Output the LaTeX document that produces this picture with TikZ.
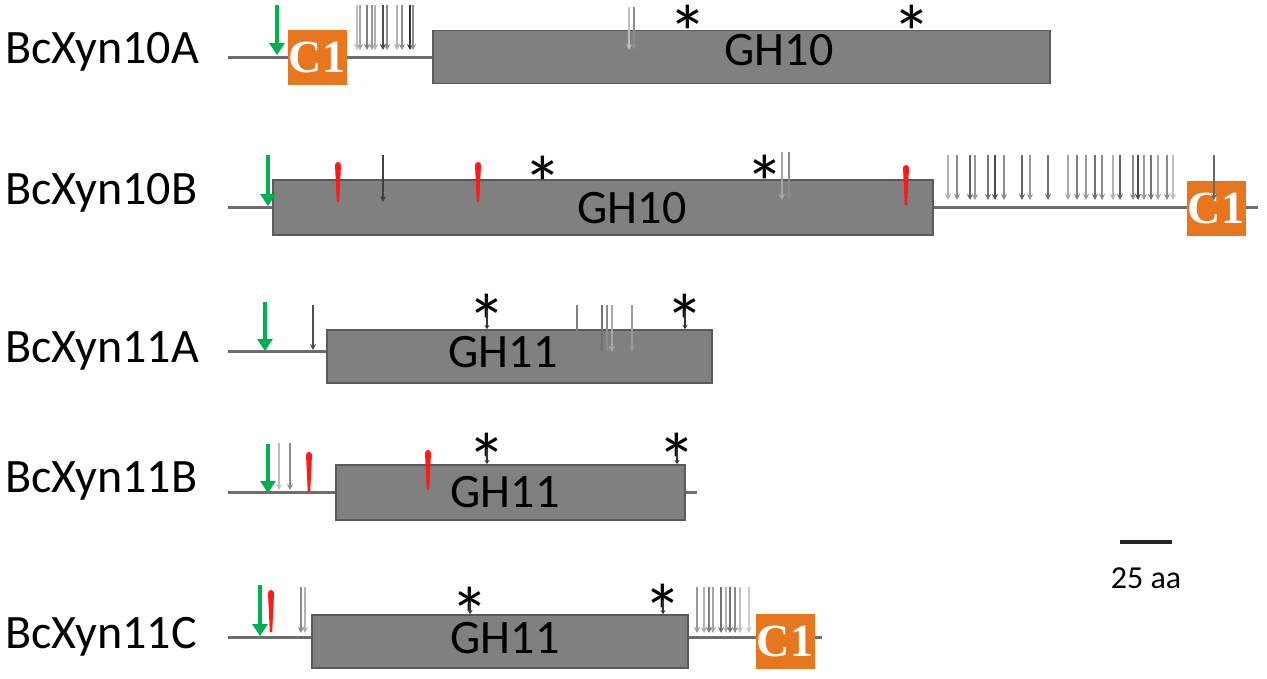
\documentclass[tikz,border=0pt]{standalone}
\usepackage{fontspec}
\setmainfont{Carlito}
\newfontfamily\cfont{Liberation Serif}
\usetikzlibrary{arrows.meta,backgrounds}
\definecolor{boxgray}{HTML}{808080}
\definecolor{boxline}{HTML}{5A5A5A}
\definecolor{spinec}{HTML}{6E6E6E}
\definecolor{cone}{HTML}{E8761E}
\definecolor{sgreen}{HTML}{00B050}
\definecolor{sred}{HTML}{FF1A1A}
\tikzset{
  spine/.style={draw=spinec, line width=3pt},
  ghbox/.style={draw=boxline, fill=boxgray, line width=1.8pt, inner sep=0, rectangle},
  cbm/.style={fill=cone, inner sep=0, minimum width=59pt, minimum height=55pt, text=white, font=\cfont\bfseries\fontsize{46}{46}\selectfont},
  protname/.style={anchor=base west, font=\fontsize{48}{48}\selectfont, inner sep=0},
  ghtext/.style={font=\fontsize{48}{48}\selectfont, inner sep=0},
  astr/.style={font=\fontsize{78}{78}\selectfont, inner sep=0, anchor=center, text height=79pt, text depth=-57pt},
  stemline/.style={draw=black!80, line width=1.3pt, -{Stealth[length=4pt,width=5pt]}},
}
\newcommand\garr[4]{\draw[line width=1.3pt, draw=black!#4, -{Stealth[length=6pt,width=6pt]}] (#1,#2) -- (#1,#3);}
\newcommand\grn[3]{\draw[sgreen, line width=4.5pt, -{Triangle[length=12pt,width=15pt]}] (#1,#2) -- (#1,#3);}
\newcommand\redm[3]{\fill[sred] (#1-3,#2+3) arc[start angle=180,end angle=360,radius=3] -- (#1+1.2,#3) -- (#1-1.2,#3) -- cycle;}
\begin{document}
\begin{tikzpicture}[x=1pt,y=-1pt]
\useasboundingbox (0,0) rectangle (1267,678);
% labels
\node[protname] (n1) at (5,63) {BcXyn10A};
\node[protname] (n2) at (5,204) {BcXyn10B};
\node[protname] (n3) at (5,362) {BcXyn11A};
\node[protname] (n4) at (5,492) {BcXyn11B};
\node[protname] (n5) at (5,648) {BcXyn11C};
% domain boxes
\node[ghbox, minimum width=617pt, minimum height=53pt] (G1) at (741.5,57) {};
\node[ghbox, minimum width=660pt, minimum height=55pt] (G2) at (603,207.5) {};
\node[ghbox, minimum width=385pt, minimum height=53pt] (G3) at (519.5,356.5) {};
\node[ghbox, minimum width=349pt, minimum height=55pt] (G4) at (510.5,492.5) {};
\node[ghbox, minimum width=376pt, minimum height=53pt] (G5) at (500,641.5) {};
\node[ghtext] (t1) at (779,50) {GH10};
\node[ghtext] (t2) at (632,208) {GH10};
\node[ghtext] (t3) at (503,352) {GH11};
\node[ghtext] (t4) at (505,492) {GH11};
\node[ghtext] (t5) at (505,638) {GH11};
% backbone end points
\coordinate (s1) at (228,57);
\coordinate (s2) at (228,207);
\coordinate (e2) at (1258,207);
\coordinate (s3) at (228,351);
\coordinate (s4) at (228,492);
\coordinate (e4) at (697,492);
\coordinate (s5) at (228,637);
\coordinate (e5) at (822,637);
\begin{scope}[on background layer]
\draw[spine] (s1) -- (s1 -| G1.west);
\draw[spine] (s2) -- (e2);
\draw[spine] (s3) -- (s3 -| G3.west);
\draw[spine] (s4) -- (e4);
\draw[spine] (s5) -- (e5);
\end{scope}
% CBM modules
\node[cbm] (c1) at (317,57) {C1};
\node[cbm] (c2) at (1216,208) {C1};
\node[cbm] (c3) at (785,641.5) {C1};
% green arrows
\grn{277}{5}{55}
\grn{268}{155}{206}
\grn{265}{302}{351}
\grn{268}{444}{493}
\grn{260}{585}{636}
% gray arrows
\foreach \x/\c in {357/25,360/35,367/50,372/40,375/30,383/70,387/45,397/30,402/45,410/80,413/45}{\garr{\x}{5}{50}{\c}}
\foreach \x/\c in {629/25,634/45}{\garr{\x}{7}{50}{\c}}
\garr{383}{155}{202}{75}
\foreach \x/\c in {782/35,789/45}{\garr{\x}{152}{200}{\c}}
\foreach \x/\c in {948/30,957/45,970/60,975/40,988/55,995/70,1004/45,1022/60,1030/40,1048/55,1068/35,1077/50,1086/40,1095/55,1102/45,1113/30,1120/60,1133/45,1138/70,1144/40,1151/55,1158/35,1167/45,1173/25}{\garr{\x}{155}{200}{\c}}
\garr{1214}{155}{200}{60}
\garr{313}{305}{350}{70}
\foreach \x/\c in {577/50,602/55,607/45,612/35,632/40}{\garr{\x}{305}{352}{\c}}
\foreach \x/\c in {279/25,290/45}{\garr{\x}{443}{490}{\c}}
\foreach \x/\c in {301/45,305/30}{\garr{\x}{587}{633}{\c}}
\foreach \x/\c in {697/40,704/30,709/50,713/35,721/55,726/30,730/55,735/45,740/25,749/20}{\garr{\x}{587}{633}{\c}}
% red markers
\redm{338}{162}{202}
\redm{478}{162}{202}
\redm{906}{165}{205}
\redm{309}{452}{492}
\redm{428}{450}{490}
\redm{271}{590}{632}
% asterisks
\node[astr] (a1) at (688,21) {*};
\node[astr] (a2) at (912,21) {*};
\node[astr] (a3) at (543,172) {*};
\node[astr] (a4) at (765,171) {*};
\node[astr] (a5) at (487,310) {*};
\node[astr] (a6) at (685,310) {*};
\node[astr] (a7) at (487,449) {*};
\node[astr] (a8) at (677,449) {*};
\node[astr] (a9) at (470,603) {*};
\node[astr] (a10) at (663,600) {*};
\draw[stemline] (a5.center) -- (G3.north -| a5);
\draw[stemline] (a6.center) -- (G3.north -| a6);
\draw[stemline] (a7.center) -- (G4.north -| a7);
\draw[stemline] (a8.center) -- (G4.north -| a8);
\draw[stemline] (a9.center) -- (G5.north -| a9);
\draw[stemline] (a10.center) -- (G5.north -| a10);
% scale bar
\coordinate (sb1) at (1120,542);
\coordinate (sb2) at (1172,542);
\draw[line width=4pt, black!85] (sb1) -- (sb2);
\node[font=\fontsize{32}{32}\selectfont, inner sep=0] (sbt) at (1146,578) {25 aa};
\end{tikzpicture}
\end{document}
